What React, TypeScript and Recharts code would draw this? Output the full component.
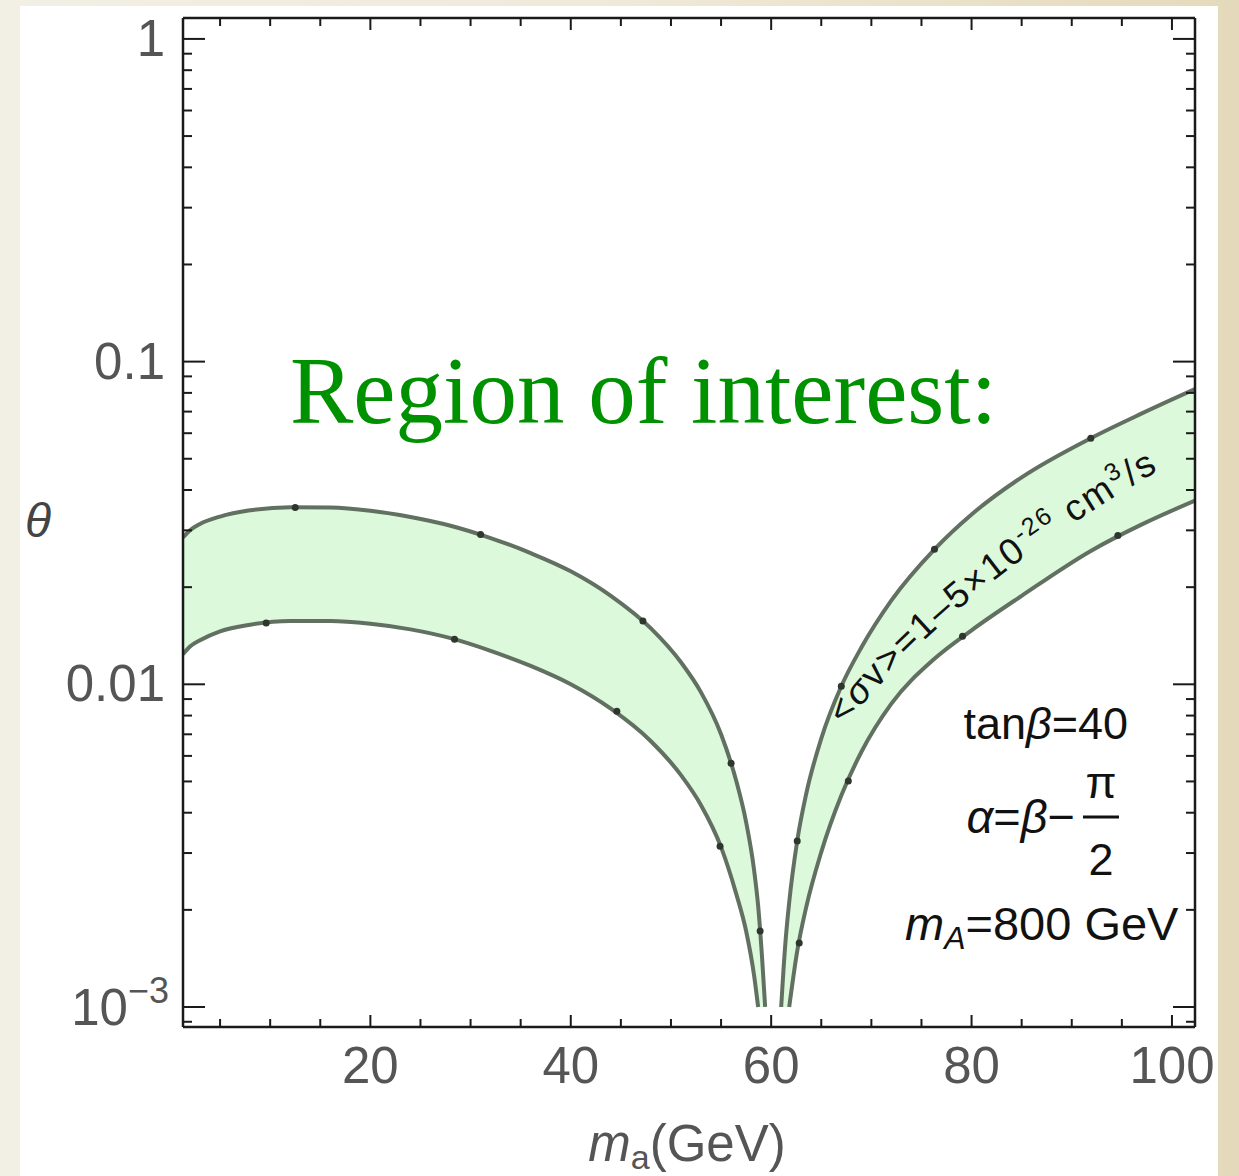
import React from 'react';
import { ComposedChart, Area, Line, XAxis, YAxis } from 'recharts';

// theta band for m_a below the dip
const leftX = [1.3, 2, 3, 5, 8, 12, 16, 20, 24, 28, 32, 36, 40, 44, 48, 51, 53, 55, 56.5, 57.5, 58.3, 58.7, 59.1, 59.4];
const leftHi = [0.0285, 0.03, 0.0314, 0.0331, 0.0346, 0.0354, 0.0353, 0.0345, 0.033, 0.031, 0.0284, 0.0255, 0.0224, 0.0188, 0.0149, 0.0117, 0.00944, 0.007, 0.00504, 0.00374, 0.00265, 0.00206, 0.00141, 0.001];
const leftLo = [0.0124, 0.0131, 0.0137, 0.0146, 0.0153, 0.0157, 0.0157, 0.0154, 0.0148, 0.0139, 0.0127, 0.0114, 0.01, 0.0084, 0.00666, 0.00523, 0.00422, 0.00313, 0.00225, 0.00172, 0.00125, 0.001, 0.001, 0.001];

// theta band for m_a above the dip
const rightX = [61.0, 61.4, 61.8, 62.6, 63.5, 65, 67, 69, 72, 76.3, 80, 85, 91.9, 97, 102.3];
const rightHi = [0.001, 0.00155, 0.00211, 0.00327, 0.00458, 0.00679, 0.00986, 0.013, 0.0182, 0.0262, 0.0336, 0.0438, 0.0579, 0.0691, 0.0822];
const rightLo = [0.001, 0.001, 0.001, 0.00149, 0.00204, 0.00302, 0.00452, 0.00617, 0.00871, 0.012, 0.0147, 0.0188, 0.0259, 0.0313, 0.0371];

// mesh dots sitting on the curves
const meshX = [12.5, 31.0, 47.2, 56.0, 58.9, 9.6, 28.4, 44.6, 54.9, 62.6, 67.0, 76.3, 91.9, 62.8, 67.7, 79.1, 94.6];
const meshY = [0.0353, 0.0291, 0.0157, 0.00569, 0.00172, 0.0155, 0.0138, 0.00825, 0.00315, 0.00327, 0.00986, 0.0262, 0.0579, 0.00158, 0.00502, 0.0141, 0.0289];

const xTicks = [5, 10, 15, 20, 25, 30, 35, 40, 45, 50, 55, 60, 65, 70, 75, 80, 85, 90, 95, 100];
const yTicks = [
  0.0009, 0.001, 0.002, 0.003, 0.004, 0.005, 0.006, 0.007, 0.008, 0.009,
  0.01, 0.02, 0.03, 0.04, 0.05, 0.06, 0.07, 0.08, 0.09,
  0.1, 0.2, 0.3, 0.4, 0.5, 0.6, 0.7, 0.8, 0.9, 1,
];

const FLOOR = 0.001;
const X_DOMAIN = [1.3, 102.3];
const Y_DOMAIN = [0.000867, 1.161];

const SANS = '"Liberation Sans", Arial, Helvetica, sans-serif';
const FILL = '#dcf9dc';
const EDGE = '#617061';
const AXIS = '#1a1a1a';
const LABEL = '#555';

// lower edge is only stroked where it is above the floor (plus the touching point)
const edgeLine = (xs: number[], ys: number[]) =>
  xs.map((x, i) => {
    const keep = ys[i] > FLOOR || (i > 0 && ys[i - 1] > FLOOR) || (i < ys.length - 1 && ys[i + 1] > FLOOR);
    return { x, v: keep ? ys[i] : null };
  });

const leftBand = leftX.map((x, i) => ({ x, range: [leftLo[i], leftHi[i]] }));
const rightBand = rightX.map((x, i) => ({ x, range: [rightLo[i], rightHi[i]] }));
const meshDots = meshX.map((x, i) => ({ x, v: meshY[i] }));

const isMajorY = (v: number) => [0.001, 0.01, 0.1, 1].includes(v);

const XTick = ({ x, y, payload, top }: any) => {
  const v = payload.value;
  const len = v % 20 === 0 ? 12 : 8;
  return (
    <g>
      <line x1={x} x2={x} y1={y} y2={top ? y + len : y - len} stroke={AXIS} strokeWidth={2} />
      {!top && v % 20 === 0 && (
        <text x={x} y={y + 56} textAnchor="middle" fontSize={51} fill={LABEL} fontFamily={SANS}>
          {v}
        </text>
      )}
    </g>
  );
};

const YTick = ({ x, y, payload, right }: any) => {
  const v = payload.value;
  const major = isMajorY(v);
  const len = major ? 22 : 9;
  let label: React.ReactNode = null;
  if (!right && major) {
    label =
      v === 0.001 ? (
        <text x={x - 14} y={y + 18} textAnchor="end" fontSize={51} fill={LABEL} fontFamily={SANS}>
          10<tspan dy={-22} fontSize={36}>−3</tspan>
        </text>
      ) : (
        <text x={x - 18} y={y + 17} textAnchor="end" fontSize={51} fill={LABEL} fontFamily={SANS}>
          {String(v)}
        </text>
      );
  }
  return (
    <g>
      <line x1={x} x2={right ? x - len : x + len} y1={y} y2={y} stroke={AXIS} strokeWidth={2} />
      {label}
    </g>
  );
};

const axisLine = { stroke: AXIS, strokeWidth: 2.5 };

export default function App() {
  return (
    <div
      style={{
        position: 'absolute',
        left: 0,
        top: 0,
        width: 1239,
        height: 1176,
        overflow: 'hidden',
        background: 'linear-gradient(90deg, #f2efe4 0%, #efe9d9 50%, #e4dabb 100%)',
      }}
    >
      <div style={{ position: 'absolute', left: 20, top: 6, width: 1198, height: 1170, background: '#fff' }} />
      <div style={{ position: 'absolute', left: 0, top: 0 }}>
        <ComposedChart width={1239} height={1176} margin={{ top: 17, right: 43, bottom: 89, left: 20 }}>
          <XAxis
            type="number"
            dataKey="x"
            domain={X_DOMAIN}
            allowDataOverflow
            ticks={xTicks}
            interval={0}
            tickSize={0}
            tickMargin={0}
            height={60}
            axisLine={axisLine}
            tickLine={false}
            tick={<XTick />}
          />
          <XAxis
            xAxisId="top"
            orientation="top"
            type="number"
            dataKey="x"
            domain={X_DOMAIN}
            allowDataOverflow
            ticks={xTicks}
            interval={0}
            tickSize={0}
            tickMargin={0}
            height={1}
            axisLine={axisLine}
            tickLine={false}
            tick={<XTick top />}
          />
          <YAxis
            scale="log"
            type="number"
            domain={Y_DOMAIN}
            allowDataOverflow
            ticks={yTicks}
            interval={0}
            tickSize={0}
            tickMargin={0}
            width={163}
            axisLine={axisLine}
            tickLine={false}
            tick={<YTick />}
          />
          <YAxis
            yAxisId="right"
            orientation="right"
            scale="log"
            type="number"
            domain={Y_DOMAIN}
            allowDataOverflow
            ticks={yTicks}
            interval={0}
            tickSize={0}
            tickMargin={0}
            width={1}
            axisLine={axisLine}
            tickLine={false}
            tick={<YTick right />}
          />

          <Area data={leftBand} dataKey="range" type="monotone" fill={FILL} fillOpacity={1} stroke="none" isAnimationActive={false} />
          <Area data={rightBand} dataKey="range" type="monotone" fill={FILL} fillOpacity={1} stroke="none" isAnimationActive={false} />

          <Line data={edgeLine(leftX, leftHi)} dataKey="v" type="monotone" stroke={EDGE} strokeWidth={4} dot={false} isAnimationActive={false} />
          <Line data={edgeLine(leftX, leftLo)} dataKey="v" type="monotone" stroke={EDGE} strokeWidth={4} dot={false} isAnimationActive={false} />
          <Line data={edgeLine(rightX, rightHi)} dataKey="v" type="monotone" stroke={EDGE} strokeWidth={4} dot={false} isAnimationActive={false} />
          <Line data={edgeLine(rightX, rightLo)} dataKey="v" type="monotone" stroke={EDGE} strokeWidth={4} dot={false} isAnimationActive={false} />

          <Line
            data={meshDots}
            dataKey="v"
            stroke="none"
            dot={{ r: 3.5, fill: '#2e362e', stroke: 'none' }}
            isAnimationActive={false}
          />
          {/* keeps the mirrored frame axes in use */}
          <Line
            data={meshDots}
            dataKey="v"
            xAxisId="top"
            yAxisId="right"
            stroke="none"
            dot={false}
            isAnimationActive={false}
          />
        </ComposedChart>
      </div>

      {/* annotations */}
      <svg width={1239} height={1176} style={{ position: 'absolute', left: 0, top: 0, pointerEvents: 'none' }}>
        <defs>
          <path id="bandLabelPath" d="M 845 726 Q 962 578 1195 450" fill="none" />
        </defs>
        <text x={290} y={423} fontSize={95} fill="#009100" fontFamily='"Liberation Serif", "Times New Roman", serif'>
          Region of interest:
        </text>

        <text x={38} y={537} textAnchor="middle" fontSize={48} fontStyle="italic" fill="#444" fontFamily={SANS}>
          θ
        </text>
        <text x={687} y={1161} textAnchor="middle" fontSize={51} fill={LABEL} fontFamily={SANS}>
          <tspan fontStyle="italic">m</tspan>
          <tspan fontSize={34} dy={8}>a</tspan>
          <tspan dy={-8}>(GeV)</tspan>
        </text>

        <text fontSize={37} fill="#111" fontFamily={SANS} letterSpacing={2}>
          <textPath href="#bandLabelPath">
            {'<'}
            <tspan fontStyle="italic">σ</tspan>v{'>'}=1–5×10
            <tspan fontSize={25} dy={-14}>-26</tspan>
            <tspan dy={14}>{'  cm'}</tspan>
            <tspan fontSize={25} dy={-14}>3</tspan>
            <tspan dy={14}>/s</tspan>
          </textPath>
        </text>

        <text x={1128} y={739} textAnchor="end" fontSize={45} fill="#111" fontFamily={SANS}>
          tan<tspan fontStyle="italic">β</tspan>=40
        </text>
        <text x={1075} y={833} textAnchor="end" fontSize={47} fill="#111" fontFamily={SANS}>
          <tspan fontStyle="italic">α</tspan>=<tspan fontStyle="italic">β</tspan>−
        </text>
        <text x={1101} y={798} textAnchor="middle" fontSize={45} fill="#111" fontFamily={SANS}>
          π
        </text>
        <line x1={1083} x2={1119} y1={817} y2={817} stroke="#111" strokeWidth={3} />
        <text x={1101} y={875} textAnchor="middle" fontSize={45} fill="#111" fontFamily={SANS}>
          2
        </text>
        <text x={905} y={940} fontSize={47} fill="#111" fontFamily={SANS}>
          <tspan fontStyle="italic">m</tspan>
          <tspan fontStyle="italic" fontSize={32} dy={9}>A</tspan>
          <tspan dy={-9}>=800 GeV</tspan>
        </text>
      </svg>
    </div>
  );
}
